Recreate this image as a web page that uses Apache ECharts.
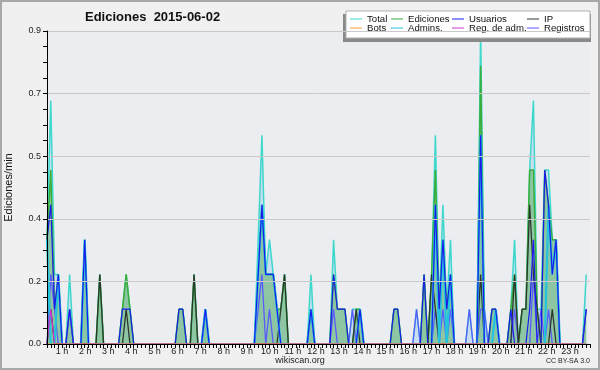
<!DOCTYPE html>
<html><head><meta charset="utf-8">
<script src="https://cdn.jsdelivr.net/npm/echarts@6/dist/echarts.min.js"></script>
<style>html,body{margin:0;padding:0;background:#f0f0f0}#c{width:600px;height:370px}</style>
</head><body><div id="c"></div>
<script>
const chartTitle = 'Ediciones  2015-06-02';
const yAxisName = 'Ediciones/min';
const hourValues = [1,2,3,4,5,6,7,8,9,10,11,12,13,14,15,16,17,18,19,20,21,22,23];
const hourLabels = ['1 h','2 h','3 h','4 h','5 h','6 h','7 h','8 h','9 h','10 h','11 h','12 h','13 h','14 h','15 h','16 h','17 h','18 h','19 h','20 h','21 h','22 h','23 h'];
const yTickLabels = ['0.0','0.2','0.4','0.5','0.7','0.9'];
const legendNames = ['Total','Ediciones','Usuarios','IP','Bots','Admins.','Reg. de adm.','Registros'];

// 10-minute bins (144 per day), edits per minute
const total = [
0.3,0.7,0.2,0.2,0,0,0.2,0,0,0,0.3,0,
0,0,0.2,0,0,0,0,0,0.1,0.2,0.1,0,
0,0,0,0,0,0,0,0,0,0,0,0.1,
0.1,0,0,0.2,0,0,0.1,0,0,0,0,0,
0,0,0,0,0,0,0,0,0.3,0.6,0.2,0.3,
0.2,0.1,0.1,0.2,0,0,0,0,0,0,0.2,0,
0,0,0,0,0.3,0.1,0.1,0.1,0,0.1,0.1,0.1,
0,0,0,0,0,0,0,0,0.1,0.1,0,0,
0,0,0.1,0,0.2,0,0.2,0.6,0.1,0.4,0.1,0.3,
0,0,0,0,0.1,0,0,0.9,0.1,0,0.1,0.1,
0,0,0,0.1,0.3,0,0.1,0.1,0.5,0.7,0.1,0.1,
0.5,0.5,0.3,0.3,0,0,0,0,0,0,0,0.2];
const ediciones = [
0.3,0.5,0.1,0.2,0,0,0.1,0,0,0,0.3,0,
0,0,0.2,0,0,0,0,0,0.1,0.2,0.1,0,
0,0,0,0,0,0,0,0,0,0,0,0.1,
0.1,0,0,0.2,0,0,0.1,0,0,0,0,0,
0,0,0,0,0,0,0,0,0.2,0.4,0.2,0.2,
0.2,0.1,0.1,0.2,0,0,0,0,0,0,0.1,0,
0,0,0,0,0.2,0.1,0.1,0.1,0,0,0.1,0.1,
0,0,0,0,0,0,0,0,0.1,0.1,0,0,
0,0,0,0,0.2,0,0.2,0.5,0.1,0.3,0.1,0.2,
0,0,0,0,0,0,0,0.8,0,0,0.1,0.1,
0,0,0,0.1,0.2,0,0.1,0.1,0.5,0.5,0.1,0,
0.5,0.4,0.3,0.3,0,0,0,0,0,0,0,0.1];
const usuarios = [
0.3,0.4,0.1,0.2,0,0,0.1,0,0,0,0.3,0,
0,0,0,0,0,0,0,0,0.1,0.1,0.1,0,
0,0,0,0,0,0,0,0,0,0,0,0.1,
0.1,0,0,0,0,0,0.1,0,0,0,0,0,
0,0,0,0,0,0,0,0,0.2,0.4,0.2,0.2,
0.2,0.1,0,0,0,0,0,0,0,0,0.1,0,
0,0,0,0,0.2,0.1,0.1,0.1,0,0,0,0.1,
0,0,0,0,0,0,0,0,0.1,0.1,0,0,
0,0,0,0,0.2,0,0,0.4,0.1,0.3,0.1,0.2,
0,0,0,0,0,0,0,0.6,0,0,0.1,0.1,
0,0,0,0.1,0,0,0,0,0.1,0.3,0,0,
0.5,0.4,0.2,0.3,0,0,0,0,0,0,0,0.1];
const ip = [
0,0.1,0,0,0,0,0,0,0,0,0,0,
0,0,0.2,0,0,0,0,0,0,0.1,0,0,
0,0,0,0,0,0,0,0,0,0,0,0,
0,0,0,0.2,0,0,0,0,0,0,0,0,
0,0,0,0,0,0,0,0,0,0,0,0,
0,0,0.1,0.2,0,0,0,0,0,0,0,0,
0,0,0,0,0,0,0,0,0,0,0.1,0,
0,0,0,0,0,0,0,0,0,0,0,0,
0,0,0,0,0,0,0.2,0.1,0,0,0,0,
0,0,0,0,0,0,0,0.2,0,0,0,0,
0,0,0,0,0.2,0,0.1,0.1,0.4,0.2,0.1,0,
0,0,0.1,0,0,0,0,0,0,0,0,0];
const bots = [
0,0,0,0,0,0,0,0,0,0,0,0,
0,0,0,0,0,0,0,0,0,0,0,0,
0,0,0,0,0,0,0,0,0,0,0,0,
0,0,0,0,0,0,0,0,0,0,0,0,
0,0,0,0,0,0,0,0,0,0,0,0,
0,0,0,0,0,0,0,0,0,0,0,0,
0,0,0,0,0,0,0,0,0,0,0,0,
0,0,0,0,0,0,0,0,0,0,0,0,
0,0,0,0,0,0,0,0,0,0,0,0,
0,0,0,0,0,0,0,0,0,0,0,0,
0,0,0,0,0,0,0,0,0,0,0,0,
0,0,0,0,0,0,0,0,0,0,0,0];
const admins = [
0.3,0,0,0.2,0,0,0,0,0,0,0.3,0,
0,0,0,0,0,0,0,0,0,0,0,0,
0,0,0,0,0,0,0,0,0,0,0,0,
0,0,0,0,0,0,0.1,0,0,0,0,0,
0,0,0,0,0,0,0,0,0.2,0.4,0.2,0.2,
0.2,0.1,0,0,0,0,0,0,0,0,0.1,0,
0,0,0,0,0,0,0,0,0,0,0,0.1,
0,0,0,0,0,0,0,0,0,0,0,0,
0,0,0,0,0,0,0,0.4,0,0.3,0,0.2,
0,0,0,0,0,0,0,0.6,0,0,0,0.1,
0,0,0,0,0,0,0,0,0,0,0,0,
0,0.4,0.2,0.3,0,0,0,0,0,0,0,0];
const regAdm = [
0,0.1,0,0,0,0,0,0,0,0,0,0,
0,0,0,0,0,0,0,0,0,0,0,0,
0,0,0,0,0,0,0,0,0,0,0,0,
0,0,0,0,0,0,0,0,0,0,0,0,
0,0,0,0,0,0,0,0,0,0,0,0,
0,0,0,0,0,0,0,0,0,0,0,0,
0,0,0,0,0,0,0,0,0,0,0,0,
0,0,0,0,0,0,0,0,0,0,0,0,
0,0,0,0,0,0,0,0,0,0,0,0,
0,0,0,0,0,0,0,0,0,0,0,0,
0,0,0,0,0,0,0,0,0,0,0,0,
0,0,0,0,0,0,0,0,0,0,0,0];
const registros = [
0,0.2,0.1,0,0,0,0.1,0,0,0,0,0,
0,0,0,0,0,0,0,0,0,0,0,0,
0,0,0,0,0,0,0,0,0,0,0,0,
0,0,0,0,0,0,0,0,0,0,0,0,
0,0,0,0,0,0,0,0,0.1,0.2,0,0.1,
0,0,0,0,0,0,0,0,0,0,0.1,0,
0,0,0,0,0.1,0,0,0,0,0.1,0,0,
0,0,0,0,0,0,0,0,0,0,0,0,
0,0,0.1,0,0,0,0,0.1,0,0.1,0,0.1,
0,0,0,0,0.1,0,0,0.1,0.1,0,0,0,
0,0,0,0,0.1,0,0,0,0,0.2,0,0.1,
0,0.1,0,0,0,0,0,0,0,0,0,0.1];

const F = 'Liberation Sans';
const chart = echarts.init(document.getElementById('c'), null, {renderer: 'canvas', width: 600, height: 370});
const pts = a => a.map((v, i) => [i, v]);

const seriesDefs = [
  {name: 'Total', data: total, color: '#3dd8cc', width: 1.5, area: 'rgba(150,200,240,0.42)'},
  {name: 'Ediciones', data: ediciones, color: '#3aad3a', width: 1.5, area: 'rgba(70,170,70,0.45)'},
  {name: 'Registros', data: registros, color: '#5a5aff', width: 1.3},
  {name: 'IP', data: ip, color: '#2b382b', width: 1.3},
  {name: 'Admins.', data: admins, color: '#22c4dd', width: 2.2},
  {name: 'Usuarios', data: usuarios, color: '#1a1aee', width: 1.2},
  {name: 'Reg. de adm.', data: regAdm, color: '#cc33cc', width: 1.2},
  {name: 'Bots', data: bots, color: '#ff9933', width: 1}
];

const series = seriesDefs.map((d, k) => ({
  type: 'line', name: d.name, data: pts(d.data), xAxisIndex: 0, yAxisIndex: 0,
  symbol: 'none', smooth: false, color: d.color, z: 2 + k * 0.01,
  lineStyle: {color: d.color, width: d.width},
  areaStyle: d.area ? {color: d.area, opacity: 1} : undefined,
  emphasis: {disabled: true}, animation: false
}));

const legendLeft = [350, 391, 452, 527];
const legendTop = [14, 23];
const legends = legendNames.map((n, i) => ({
  data: [n], left: legendLeft[i % 4], top: legendTop[Math.floor(i / 4)],
  padding: 0, icon: 'rect', itemWidth: 12, itemHeight: 1, itemGap: 0,
  textStyle: {fontFamily: F, fontSize: 9.6, color: '#111', padding: [0, 0, 0, 0]},
  selectedMode: false
}));

chart.setOption({
  animation: false,
  backgroundColor: '#f0f0f0',
  title: {text: chartTitle, left: 85, top: 11, padding: 0,
    textStyle: {fontFamily: F, fontSize: 13, fontWeight: 'bold', color: '#111'}},
  legend: legends,
  grid: {left: 47, right: 10, top: 31, bottom: 26, show: true, backgroundColor: '#ecedf0', borderWidth: 0,
    containLabel: false, outerBoundsMode: 'none'},
  xAxis: [
    {type: 'value', min: 0, max: 144, interval: 1, z: 10,
      axisLine: {show: true, onZero: false, lineStyle: {color: '#000', width: 1}},
      axisTick: {show: true, length: 4, lineStyle: {color: '#000'}},
      axisLabel: {show: false}, splitLine: {show: false}},
    {type: 'value', min: 0.347, max: 23.87, position: 'bottom', z: 10,
      axisLine: {show: false}, axisTick: {show: false}, splitLine: {show: false},
      axisLabel: {show: true, customValues: hourValues, margin: 3, fontFamily: F, fontSize: 9, color: '#222',
        formatter: v => hourLabels[hourValues.indexOf(Math.round(v))] || ''}}
  ],
  yAxis: {type: 'value', min: 0, max: 0.9, interval: 0.18, z: 10,
    name: yAxisName, nameLocation: 'middle', nameGap: 33, nameRotate: 90,
    nameTextStyle: {fontFamily: F, fontSize: 11, color: '#111'},
    axisLine: {show: true, lineStyle: {color: '#000', width: 1}},
    axisTick: {show: true, length: 4, lineStyle: {color: '#000'}},
    minorTick: {show: true, splitNumber: 4, length: 4, lineStyle: {color: '#000'}},
    axisLabel: {margin: 6, fontFamily: F, fontSize: 9, color: '#222',
      formatter: (v) => yTickLabels[Math.round(v / 0.18)]},
    splitLine: {show: true, lineStyle: {color: '#c9c9cc', width: 1}}},
  graphic: [
    {type: 'rect', z: 3, shape: {x: 343, y: 14, width: 248, height: 28}, style: {fill: '#8a8a8a'}},
    {type: 'rect', z: 3, shape: {x: 346, y: 11, width: 244, height: 27}, style: {fill: '#ffffff', stroke: '#b0b0b0', lineWidth: 1}},
    {type: 'text', z: 5, left: 'center', top: 356, style: {text: 'wikiscan.org', fontFamily: F, fontSize: 9, fill: '#222'}},
    {type: 'text', z: 5, right: 10, top: 358, style: {text: 'CC BY-SA 3.0', fontFamily: F, fontSize: 7, fill: '#222'}},
    {type: 'rect', z: 100, shape: {x: 1, y: 1, width: 598, height: 368}, style: {fill: 'none', stroke: '#a8a8a8', lineWidth: 2}}
  ],
  series: series
});
</script></body></html>
